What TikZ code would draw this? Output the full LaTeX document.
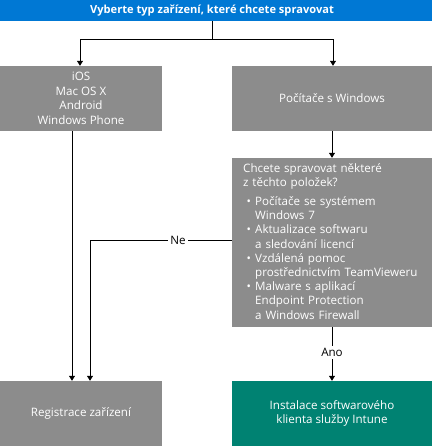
\documentclass[tikz,border=0pt]{standalone}
\usepackage{fontspec}
\setmainfont{Open Sans}
\usetikzlibrary{arrows.meta,positioning,calc}
\definecolor{topblue}{HTML}{0078D4}
\definecolor{boxgray}{HTML}{8C8C8C}
\definecolor{teal}{HTML}{008272}
\newcommand{\bitem}[1]{\makebox[12pt][l]{\hspace{3.5pt}•}#1}
\newcommand{\bcont}[1]{\hspace*{12pt}#1}
\begin{document}
\begin{tikzpicture}[x=1pt,y=-1pt,
  box/.style={draw=none,fill=boxgray,text=white,font=\fontsize{11.6}{14.6}\selectfont,align=center,inner sep=0pt},
  conn/.style={draw=black,line width=0.8pt,-{Triangle[length=5pt,width=6pt]}},
  lbl/.style={fill=white,text=black,font=\fontsize{11.6}{12}\selectfont,inner sep=2.5pt}]
\useasboundingbox (0,0) rectangle (432,446);
\node[box,fill=topblue,minimum width=432pt,minimum height=21pt,font=\fontsize{11.1}{12}\selectfont\bfseries] (top) at (216,10.5) {\hspace*{-8pt}Vyberte typ zařízení, které chcete spravovat};
\node[box,minimum width=162pt,minimum height=65pt] (left) at (81,98.5) {iOS\\Mac OS X\\Android\\Windows Phone};
\node[box,minimum width=200pt,minimum height=65pt] (pc) at (332,98.5) {Počítače s Windows};
\node[box,minimum width=200pt,minimum height=169pt] (q) at (332,242.5) {};
\node[anchor=north west,text=white,inner sep=0pt,text width=189pt,align=left,font=\fontsize{11.6}{14.2}\selectfont] (qt) at (243,163.5) {Chcete spravovat některé\\z těchto položek?\\[4.5pt]
\bitem{Počítače se systémem}\\\bcont{Windows 7}\\
\bitem{Aktualizace softwaru}\\\bcont{a sledování licencí}\\
\bitem{Vzdálená pomoc}\\\bcont{prostřednictvím TeamVieweru}\\
\bitem{Malware s aplikací}\\\bcont{Endpoint Protection}\\\bcont{a Windows Firewall}};
\node[box,minimum width=162pt,minimum height=65pt] (reg) at (81,413.5) {Registrace zařízení};
\node[box,fill=teal,minimum width=200pt,minimum height=65pt] (intune) at (332,413.5) {Instalace softwarového\\klienta služby Intune};
\coordinate (split) at (212,39);
\draw[line width=0.8pt] ([xshift=-4pt]top.south) -- (split);
\draw[conn] (split) -| ([xshift=-1pt]left.north);
\draw[conn] (split) -| ([xshift=1pt]pc.north);
\draw[conn] (pc.south) -- (q.north);
\draw[conn] ([xshift=-9pt]left.south) -- ([xshift=-9pt]reg.north);
\draw[conn] ([yshift=2.5pt]q.west) -| node[lbl,pos=0.19]{Ne} ([xshift=9pt]reg.north);
\draw[conn] (q.south) -- node[lbl,pos=0.47]{Ano} (intune.north);
\end{tikzpicture}
\end{document}
